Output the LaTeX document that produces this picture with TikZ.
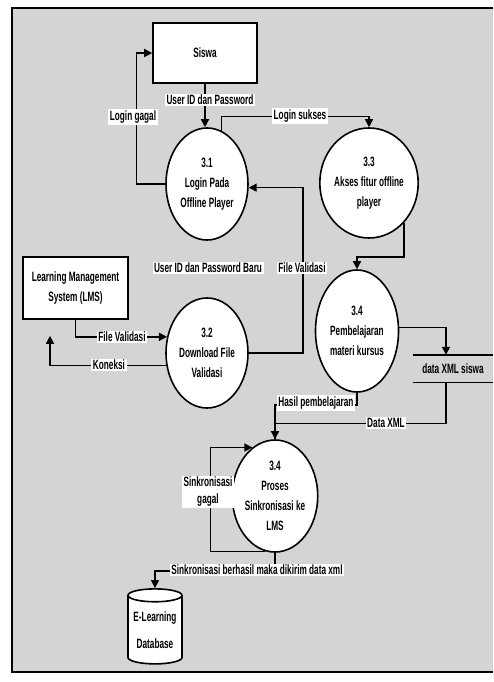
\documentclass[tikz,border=0pt]{standalone}
\usepackage{fontspec}
\setmainfont{Liberation Sans}[FakeStretch=0.61]
\usetikzlibrary{shapes.geometric,arrows.meta,calc}

\begin{document}
\begin{tikzpicture}[x=1pt,y=-1pt,
  every node/.style={font=\fontsize{13.5}{14}\selectfont\bfseries},
  flow/.style={line width=1.4pt, -{Triangle[length=8pt,width=8pt]}},
  plain/.style={line width=1.4pt},
  proc/.style={ellipse, draw, line width=1.6pt, fill=white, align=center,
    inner sep=0pt, font=\fontsize{13.5}{20}\selectfont\bfseries},
  entity/.style={rectangle, draw, line width=1.6pt, fill=white, align=center,
    font=\fontsize{13.5}{20}\selectfont\bfseries},
  lbl/.style={fill=white, inner sep=1.5pt, align=center}
]
\useasboundingbox (0,0) rectangle (493,682);
\fill[white] (0,0) rectangle (493,682);
% framed grey panel
\fill[black!17] (12,8) rectangle (493,672);
\draw[line width=1.5pt] (493,8) -- (12,8) -- (12,672) -- (493,672);

% external entities, processes and stores
\node[entity, minimum width=104, minimum height=60] (siswa) at (205,53) {Siswa};
\node[proc, minimum width=82, minimum height=112] (p31) at (207,184) {3.1\\Login Pada\\Offline Player};
\node[proc, minimum width=82, minimum height=110] (p33) at (369,183) {3.3\\Akses fitur offline\\player};
\node[entity, minimum width=105, minimum height=62] (lms) at (75.5,288) {Learning Management\\System (LMS)};
\node[proc, minimum width=82, minimum height=110] (p32) at (207,353) {3.2\\Download File\\Validasi};
\node[proc, minimum width=83, minimum height=122] (p34) at (357,331) {3.4\\Pembelajaran\\materi kursus};
\node[minimum width=80, minimum height=27, inner sep=0pt] (store) at (453,368.5) {data XML siswa};
\draw[plain] (store.north west) -- (store.north east) (store.south west) -- (store.south east);
\node[proc, minimum width=80, minimum height=112] (p35) at (275,496) {3.4\\Proses\\Sinkronisasi ke\\LMS};
\node[cylinder, shape border rotate=90, draw, line width=1.6pt, fill=white, aspect=0.3,
  minimum width=54, minimum height=75, align=center, inner sep=0pt,
  font=\fontsize{13.5}{27}\selectfont\bfseries] (db) at (155,630) {E-Learning\\Database};

% data flows
\draw[flow] (siswa.south) -- (siswa.south |- p31.north);
\draw[flow] (p31.west) -- ++(-29,0) |- (siswa.west);
\draw[flow] (p31.75) -- ++(0,-14) -| (p33.north);
\draw[flow] (lms.south) |- (p32.158);
\draw[flow] (p32.197) -| ([shift={(-25.5,16)}]lms.south);
\draw[flow] (p32.east) -- ++(54,0) |- (p31.355);
\draw[flow] (p33.311) -- ++(0,34) -| (p34.north);
\draw[flow] (p34.5) -| ([xshift=-7pt]store.north);
\draw[plain] (p34.south) -- ++(0,12) -| (p35.north);
\draw[flow] ([xshift=-7pt]store.south) -- ++(0,41) -| (p35.north);
\draw[flow] (p35.260) -- ++(-55,0) |- (p35.115);
\draw[flow] (p35.south) -- ++(0,18) -| (db.north);

% flow labels
\node[lbl] (l1) at (210,100) {User ID dan Password};
\node[lbl] (l2) at (133,117) {Login gagal};
\node[lbl] (l3) at (300,116) {Login sukses};
\node[lbl] (l4) at (122,337) {File Validasi};
\node[lbl] (l5) at (109,365) {Koneksi};
\node[lbl] (l6) at (208,268) {User ID dan Password Baru};
\node[lbl] (l7) at (302,268) {File Validasi};
\node[lbl] (l8) at (316,403) {Hasil pembelajaran};
\node[lbl] (l9) at (386,423) {Data XML};
\node[lbl, font=\fontsize{13.5}{17}\selectfont\bfseries] (l10) at (208,492) {Sinkronisasi\\gagal};
\node[lbl] (l11) at (257,570) {Sinkronisasi berhasil maka dikirim data xml};
\end{tikzpicture}
\end{document}
